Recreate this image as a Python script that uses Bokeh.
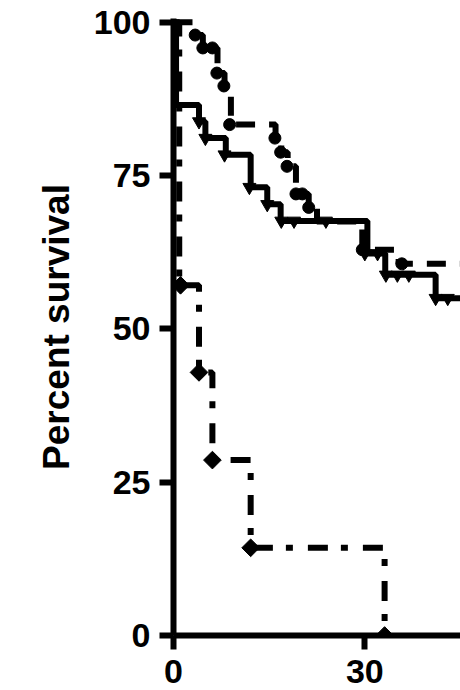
from bokeh.plotting import figure
from bokeh.models import FixedTicker, Range1d
from bokeh.embed import file_html
from bokeh.resources import INLINE
import numpy as np

# ---------------- data ----------------
# Group 1: dashed line, circles
circ_t = [0, 3.4, 4.6, 6.9, 8.0, 9.0, 16.0, 16.9, 17.9, 19.2, 21.2, 22.5, 29.6, 35.3, 45]
circ_s = [100, 97.9, 95.8, 91.7, 89.6, 83.3, 81.1, 78.8, 76.5, 72.0, 69.8, 67.5, 62.9, 60.6, 60.6]
circ_mark_t = [3.4, 4.6, 6.1, 6.8, 7.9, 8.8, 15.9, 16.8, 17.8, 19.2, 20.2, 21.2, 29.6, 35.8]
circ_mark_s = [97.9, 95.8, 95.8, 91.7, 89.6, 83.3, 81.1, 78.8, 76.5, 72.0, 72.0, 69.8, 62.9, 60.6]

# Group 2: solid line, inverted triangles
tri_t = [0, 0.4, 4.0, 5.0, 8.2, 12.1, 14.7, 16.8, 30.4, 33.2, 41.1, 45]
tri_s = [100, 86.5, 83.8, 81.1, 78.4, 73.1, 70.3, 67.6, 62.3, 58.8, 55.0, 55.0]
tri_mark_t = [4.0, 5.0, 8.0, 11.9, 14.7, 16.9, 18.9, 23.9, 30.0, 32.0, 33.3, 35.1, 36.9, 41.1, 43.0]
tri_mark_s = [83.8, 81.1, 78.4, 73.1, 70.3, 67.6, 67.6, 67.6, 62.3, 62.3, 58.8, 58.8, 58.8, 55.0, 55.0]

# Group 3: dash-dot line, diamonds
dia_t = [0, 0.9, 4.0, 6.1, 12.1, 33.1]
dia_s = [100, 57.1, 42.9, 28.6, 14.3, 0]
dia_mark_t = [1.1, 4.0, 6.1, 12.1, 33.1]
dia_mark_s = [57.1, 42.9, 28.6, 14.3, 0]

x_ticks = [0, 30]
y_ticks = [0, 25, 50, 75, 100]

# ---------------- figure ----------------
FONT = "Liberation Sans"

p = figure(width=460, height=690,
           x_range=Range1d(0, 45), y_range=Range1d(0, 100.6),
           output_backend="svg", toolbar_location=None,
           min_border_left=173, min_border_right=0,
           min_border_top=18, min_border_bottom=55)
p.outline_line_color = None
p.xgrid.visible = False
p.ygrid.visible = False
p.background_fill_color = "white"
p.border_fill_color = "white"

for ax in (p.xaxis[0], p.yaxis[0]):
    ax.axis_line_width = 6
    ax.axis_line_color = "black"
    ax.major_tick_line_width = 6
    ax.major_tick_line_color = "black"
    ax.major_tick_out = 14
    ax.major_tick_in = 0
    ax.minor_tick_line_color = None
    ax.major_label_text_font = FONT
    ax.major_label_text_font_style = "bold"
    ax.major_label_text_font_size = "34px"
    ax.major_label_text_color = "black"

p.xaxis.ticker = FixedTicker(ticks=x_ticks)
p.yaxis.ticker = FixedTicker(ticks=y_ticks)
p.xaxis.major_label_standoff = 10
p.yaxis.major_label_standoff = 9

p.yaxis.axis_label = "Percent survival"
p.yaxis.axis_label_text_font = FONT
p.yaxis.axis_label_text_font_style = "bold"
p.yaxis.axis_label_text_font_size = "37px"
p.yaxis.axis_label_text_color = "black"
p.yaxis.axis_label_standoff = 14

# curves
p.step(circ_t, circ_s, mode="after", line_width=6, line_color="black", line_dash="19 14")
p.step(tri_t, tri_s, mode="after", line_width=6, line_color="black")
p.step(dia_t, dia_s, mode="after", line_width=6, line_color="black", line_dash="20 13 7 15")

p.scatter(circ_mark_t, circ_mark_s, marker="circle", size=12, fill_color="black", line_color="black")
p.scatter(tri_mark_t, tri_mark_s, marker="inverted_triangle", size=13, fill_color="black", line_color="black")
p.scatter(dia_mark_t, dia_mark_s, marker="square", size=12.5, angle=np.pi / 4,
          fill_color="black", line_color="black")

open("out.html", "w").write(file_html(p, INLINE))
